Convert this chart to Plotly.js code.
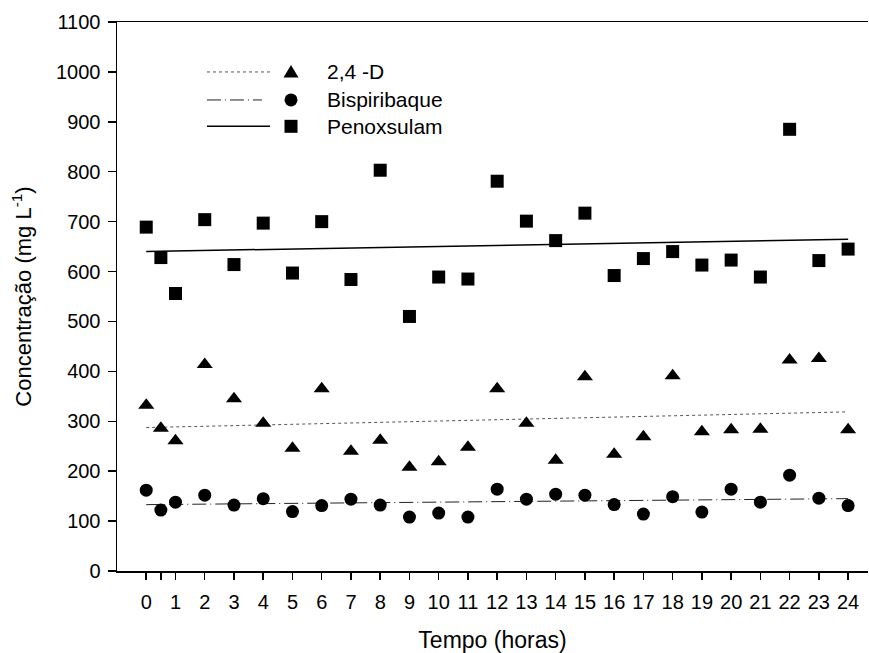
<!DOCTYPE html>
<html>
<head>
<meta charset="utf-8">
<script src="https://cdn.plot.ly/plotly-3.0.1.min.js"></script>
<style>html,body{margin:0;padding:0;background:#fff}#chart{width:869px;height:653px}</style>
</head>
<body>
<div id="chart"></div>
<script>
// Time points (hours)
const tempo = [0, 0.5, 1, 2, 3, 4, 5, 6, 7, 8, 9, 10, 11, 12, 13, 14, 15, 16, 17, 18, 19, 20, 21, 22, 23, 24];
// Concentration series (mg L-1)
const d24 = [332, 286, 261, 414, 345, 296, 246, 365, 240, 262, 208, 219, 248, 365, 296, 222, 389, 234, 269, 391, 279, 283, 284, 423, 426, 283];
const bispiribaque = [162, 122, 138, 152, 132, 145, 119, 131, 144, 132, 108, 116, 108, 164, 144, 154, 152, 133, 114, 149, 118, 164, 138, 192, 146, 131];
const penoxsulam = [689, 628, 556, 704, 614, 697, 597, 700, 584, 803, 510, 589, 585, 781, 701, 662, 717, 592, 626, 640, 613, 623, 589, 885, 622, 645];
// Tick labels
const tickVals = [0, 0.5, 1, 2, 3, 4, 5, 6, 7, 8, 9, 10, 11, 12, 13, 14, 15, 16, 17, 18, 19, 20, 21, 22, 23, 24];
const tickText = ['0', ' ', '1', '2', '3', '4', '5', '6', '7', '8', '9', '10', '11', '12', '13', '14', '15', '16', '17', '18', '19', '20', '21', '22', '23', '24'];
const seriesNames = ['2,4 -D', 'Bispiribaque', 'Penoxsulam'];

function fit(x, y) {
  const n = x.length;
  const mx = x.reduce((a, b) => a + b, 0) / n;
  const my = y.reduce((a, b) => a + b, 0) / n;
  let sxy = 0, sxx = 0;
  for (let i = 0; i < n; i++) { sxy += (x[i] - mx) * (y[i] - my); sxx += (x[i] - mx) ** 2; }
  const b = sxy / sxx, a = my - b * mx;
  const xs = [Math.min(...x), Math.max(...x)];
  return { x: xs, y: xs.map(v => a + b * v) };
}

const FONT = 'Arial, "Liberation Sans", sans-serif';
const series = [d24, bispiribaque, penoxsulam];
const symbols = ['triangle-up', 'circle', 'square'];
const sizes = [14, 13, 13];
const lineStyles = [
  { color: '#555', width: 1, dash: 'dot' },
  { color: '#222', width: 1, dash: '14px,4px,1px,4px' },
  { color: '#000', width: 1.5, dash: 'solid' }
];

const traces = [];
series.forEach((s, i) => {
  const f = fit(tempo, s);
  traces.push({ x: f.x, y: f.y, mode: 'lines', line: lineStyles[i], showlegend: false, hoverinfo: 'skip' });
});
series.forEach((s, i) => {
  traces.push({ x: tempo, y: s, mode: 'markers', name: seriesNames[i], showlegend: false,
    marker: { symbol: symbols[i], size: sizes[i], color: '#000', line: { width: 0 } } });
});

// manual legend (paper coords)
const rowY = [0.909, 0.858, 0.810];
const lineX0 = 0.1198, lineX1 = [0.2037, 0.193, 0.2037];
const markX = 0.2317, textX = 0.277;
const shapes = [];
const annotations = [];
rowY.forEach((yy, i) => {
  shapes.push({ type: 'line', xref: 'paper', yref: 'paper', x0: lineX0, x1: lineX1[i], y0: yy, y1: yy, line: lineStyles[i] });
  annotations.push({ xref: 'paper', yref: 'paper', x: textX, y: yy, xanchor: 'left', yanchor: 'middle',
    text: seriesNames[i], showarrow: false, font: { family: FONT, size: 21, color: '#000' } });
});
// marker glyphs for legend
shapes.push({ type: 'path', xref: 'paper', yref: 'paper', xsizemode: 'pixel', ysizemode: 'pixel',
  xanchor: markX, yanchor: rowY[0], path: 'M -7.5 -5.5 L 7.5 -5.5 L 0 7 Z', fillcolor: '#000', line: { width: 0 } });
shapes.push({ type: 'circle', xref: 'paper', yref: 'paper', xsizemode: 'pixel', ysizemode: 'pixel',
  xanchor: markX, yanchor: rowY[1], x0: -6.5, x1: 6.5, y0: -6.5, y1: 6.5, fillcolor: '#000', line: { width: 0 } });
shapes.push({ type: 'rect', xref: 'paper', yref: 'paper', xsizemode: 'pixel', ysizemode: 'pixel',
  xanchor: markX, yanchor: rowY[2], x0: -6.5, x1: 6.5, y0: -6.5, y1: 6.5, fillcolor: '#000', line: { width: 0 } });

const layout = {
  width: 869, height: 653,
  margin: { l: 117, r: 1, t: 22, b: 82 },
  paper_bgcolor: '#fff', plot_bgcolor: '#fff',
  font: { family: FONT, size: 20, color: '#000' },
  showlegend: false,
  xaxis: {
    range: [-1, 24.68], tickvals: tickVals, ticktext: tickText,
    ticks: 'outside', ticklen: 7, tickwidth: 1.5, tickcolor: '#000',
    ticklabelstandoff: 5,
    showline: true, linecolor: '#000', linewidth: 1.5, mirror: true,
    showgrid: false, zeroline: false,
    tickfont: { family: FONT, size: 20 },
    title: { text: 'Tempo (horas)', font: { family: FONT, size: 23 }, standoff: 22 }
  },
  yaxis: {
    range: [0, 1100], dtick: 100, tick0: 0,
    ticks: 'outside', ticklen: 8, tickwidth: 1.5, tickcolor: '#000',
    ticklabelstandoff: 3,
    showline: true, linecolor: '#000', linewidth: 1.5,
    showgrid: false, zeroline: false,
    tickfont: { family: FONT, size: 20 },
    title: { text: 'Concentração (mg L<sup>-1</sup>)', font: { family: FONT, size: 22 }, standoff: 18 }
  },
  shapes: shapes,
  annotations: annotations
};

Plotly.newPlot('chart', traces, layout, { displayModeBar: false, staticPlot: true });
</script>
</body>
</html>
